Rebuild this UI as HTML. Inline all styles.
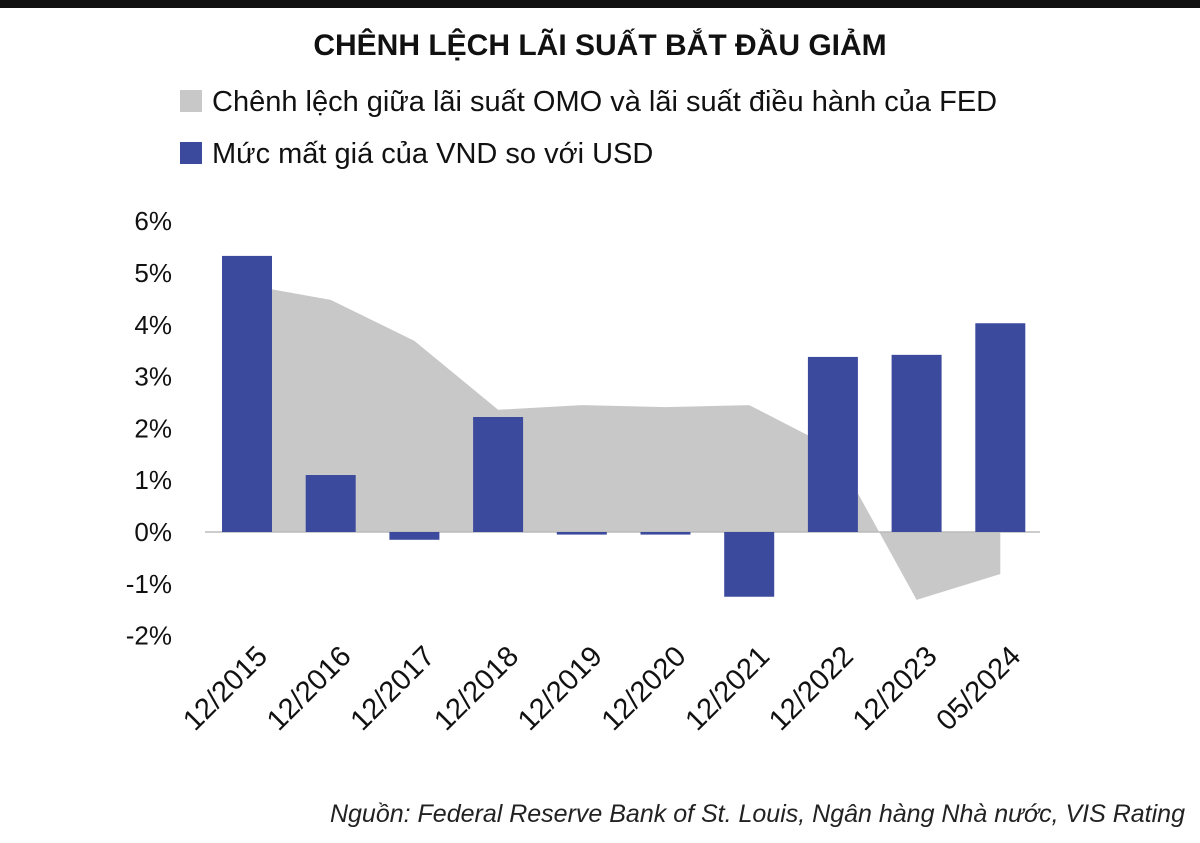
<!DOCTYPE html>
<html><head><meta charset="utf-8">
<style>
body{margin:0;background:#fff;width:1200px;height:838px;overflow:hidden;font-family:"Liberation Sans",sans-serif;}
</style></head>
<body>
<svg id="chart" width="1200" height="838" xmlns="http://www.w3.org/2000/svg">
<rect x="0" y="0" width="1200" height="8" fill="#111"/>
<text x="600" y="55" text-anchor="middle" font-size="30" font-weight="bold" fill="#111">CHÊNH LỆCH LÃI SUẤT BẮT ĐẦU GIẢM</text>
<rect x="180" y="90" width="22" height="22" fill="#c8c8c9"/>
<text x="212" y="111" font-size="29" fill="#111">Chênh lệch giữa lãi suất OMO và lãi suất điều hành của FED</text>
<rect x="180" y="142" width="22" height="22" fill="#3c4a9e"/>
<text x="212" y="163" font-size="29" fill="#111">Mức mất giá của VND so với USD</text>
<g id="plot"></g>
<text x="1185" y="822" text-anchor="end" font-size="25" font-style="italic" fill="#222">Nguồn: Federal Reserve Bank of St. Louis, Ngân hàng Nhà nước, VIS Rating</text>
</svg>
<script>
const categories=["12/2015","12/2016","12/2017","12/2018","12/2019","12/2020","12/2021","12/2022","12/2023","05/2024"];
const depreciation=[5.33,1.1,-0.15,2.22,-0.05,-0.05,-1.25,3.38,3.42,4.03];
const spread=[4.77,4.48,3.69,2.36,2.45,2.41,2.45,1.62,-1.31,-0.81];
const yTicks=[6,5,4,3,2,1,0,-1,-2];
const yTickLabels=["6%","5%","4%","3%","2%","1%","0%","-1%","-2%"];

const NS="http://www.w3.org/2000/svg";
const g=document.getElementById("plot");
function y(v){return 532-v*51.8;}
function x(i){return 247+i*83.7;}
function mk(t,a){const e=document.createElementNS(NS,t);for(const k in a)e.setAttribute(k,a[k]);g.appendChild(e);return e;}

let d="M"+x(0)+","+y(0);
spread.forEach((v,i)=>{d+=" L"+x(i)+","+y(v);});
d+=" L"+x(spread.length-1)+","+y(0)+" Z";
const area=mk("path",{d:d,fill:"#c8c8c9"});



const axis=mk("line",{x1:205,x2:1040,y1:y(0),y2:y(0),stroke:"#bbb","stroke-width":1.5});



depreciation.forEach((v,i)=>{
  const top=Math.min(y(v),y(0)),h=Math.abs(y(v)-y(0));
  const r=mk("rect",{x:x(i)-25,y:top,width:50,height:Math.max(h,1),fill:"#3c4a9e"});
  
  
});

yTicks.forEach((v,i)=>{
  const t=mk("text",{x:172,y:y(v)+9,"text-anchor":"end","font-size":26,fill:"#111"});
  t.textContent=yTickLabels[i];
  
  
});

categories.forEach((c,i)=>{
  const lx=x(i)+22, ly=658;
  const t=mk("text",{x:lx,y:ly,"text-anchor":"end","font-size":29,fill:"#111",transform:"rotate(-45 "+lx+" "+ly+")"});
  t.textContent=c;
  
  
});
</script>
</body></html>
